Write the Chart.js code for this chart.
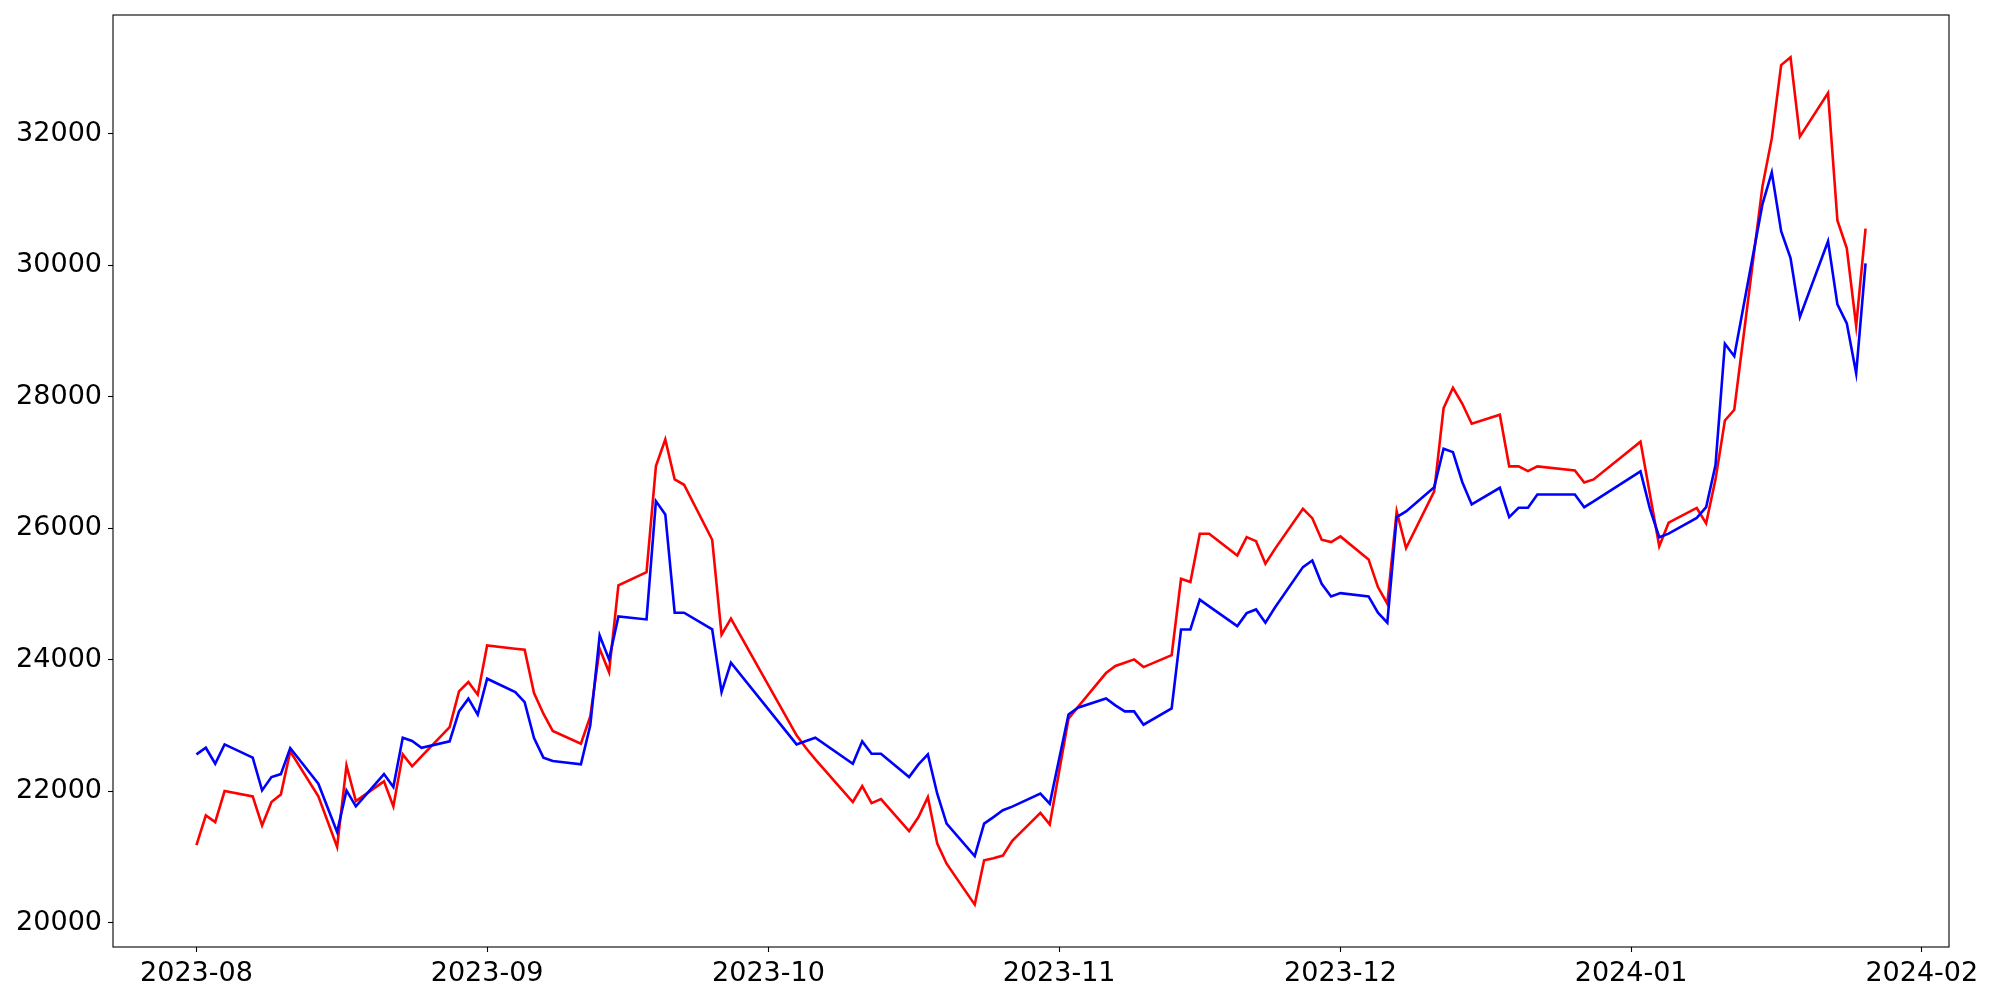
<!DOCTYPE html>
<html>
<head>
<meta charset="utf-8">
<title>price lines</title>
<script src="https://cdn.jsdelivr.net/npm/chart.js@4/dist/chart.umd.min.js"></script>
<style>
  body { margin: 0; background: #fff; }
  canvas { display: block; }
</style>
</head>
<body>
<canvas id="priceChart" width="2000" height="1000"></canvas>
<script>
// trading days (KRX calendar, holidays skipped)
const dates = [
  "2023-08-01","2023-08-02","2023-08-03","2023-08-04","2023-08-07","2023-08-08","2023-08-09","2023-08-10","2023-08-11",
  "2023-08-14","2023-08-16","2023-08-17","2023-08-18","2023-08-21","2023-08-22","2023-08-23","2023-08-24","2023-08-25",
  "2023-08-28","2023-08-29","2023-08-30","2023-08-31",
  "2023-09-01","2023-09-04","2023-09-05","2023-09-06","2023-09-07","2023-09-08","2023-09-11","2023-09-12","2023-09-13",
  "2023-09-14","2023-09-15","2023-09-18","2023-09-19","2023-09-20","2023-09-21","2023-09-22","2023-09-25","2023-09-26",
  "2023-09-27",
  "2023-10-04","2023-10-05","2023-10-06","2023-10-10","2023-10-11","2023-10-12","2023-10-13","2023-10-16","2023-10-17",
  "2023-10-18","2023-10-19","2023-10-20","2023-10-23","2023-10-24","2023-10-25","2023-10-26","2023-10-27","2023-10-30",
  "2023-10-31",
  "2023-11-01","2023-11-02","2023-11-03","2023-11-06","2023-11-07","2023-11-08","2023-11-09","2023-11-10","2023-11-13",
  "2023-11-14","2023-11-15","2023-11-16","2023-11-17","2023-11-20","2023-11-21","2023-11-22","2023-11-23","2023-11-24",
  "2023-11-27","2023-11-28","2023-11-29","2023-11-30",
  "2023-12-01","2023-12-04","2023-12-05","2023-12-06","2023-12-07","2023-12-08","2023-12-11","2023-12-12","2023-12-13",
  "2023-12-14","2023-12-15","2023-12-18","2023-12-19","2023-12-20","2023-12-21","2023-12-22","2023-12-26","2023-12-27",
  "2023-12-28",
  "2024-01-02","2024-01-03","2024-01-04","2024-01-05","2024-01-08","2024-01-09","2024-01-10","2024-01-11","2024-01-12",
  "2024-01-15","2024-01-16","2024-01-17","2024-01-18","2024-01-19","2024-01-22","2024-01-23","2024-01-24","2024-01-25",
  "2024-01-26"
];

const blueValues = [
  22560, 22661, 22418, 22712, 22510, 22012, 22215, 22260, 22656, 22114, 21378, 22012, 21769, 22260, 22063, 22814,
  22763, 22661, 22758, 23214, 23407, 23164,
  23711, 23508, 23355, 22808, 22510, 22458, 22408, 23001, 24370, 24005, 24659, 24613, 26413, 26210, 24715, 24715,
  24461, 23508, 23955,
  22712, 22763, 22814, 22418, 22758, 22570, 22570, 22215, 22408, 22560, 21962, 21506, 21013, 21506, 21606, 21710,
  21765, 21962, 21810,
  22490, 23168, 23270, 23410, 23305, 23214, 23214, 23012, 23260, 24460, 24460, 24913, 24811, 24511, 24709, 24765,
  24563, 24791, 25409, 25511, 25156, 24963,
  25013, 24963, 24715, 24563, 26170, 26256, 26625, 27210, 27158, 26701, 26362, 26616, 26170, 26312, 26312, 26514,
  26514, 26321, 26408,
  26866, 26300, 25864, 25918, 26157, 26320, 26962, 28808, 28618, 30927, 31415, 30519, 30112, 29216, 30367, 29406,
  29117, 28357, 30030
];

const redValues = [
  21181, 21632, 21530, 22002, 21921, 21480, 21835, 21951, 22605, 21921, 21150, 22392, 21850, 22149, 21769, 22560,
  22378, 22529, 22975, 23518, 23660, 23468,
  24218, 24168, 24152, 23492, 23179, 22915, 22722, 23138, 24168, 23812, 25130, 25333, 26945, 27351, 26743, 26662,
  25825, 24380, 24624,
  22850, 22656, 22484, 21835, 22078, 21819, 21880, 21393, 21606, 21910, 21202, 20897, 20274, 20948, 20978, 21020,
  21245, 21670, 21495,
  22300, 23103, 23280, 23797, 23905, 23955, 24005, 23888, 24070, 25232, 25181, 25917, 25917, 25587, 25865, 25804,
  25460, 25683, 26297, 26154, 25825, 25789,
  25876, 25526, 25105, 24852, 26256, 25698, 26560, 27827, 28137, 27894, 27590, 27727, 26941, 26941, 26869, 26941,
  26880, 26697, 26743,
  27318, 26520, 25725, 26085, 26309, 26075, 26744, 27640, 27803, 31198, 31931, 33046, 33164, 31958, 32621, 30682,
  30258, 29079, 30557
];

const xTickLabels = ["2023-08", "2023-09", "2023-10", "2023-11", "2023-12", "2024-01", "2024-02"];
const yTicks = [20000, 22000, 24000, 26000, 28000, 30000, 32000];

// matplotlib-like 5% margins around the data
const xs = dates.map(d => Date.parse(d));
const xMin = Math.min(...xs), xMax = Math.max(...xs);
const xPad = (xMax - xMin) * 0.05;
const allY = blueValues.concat(redValues);
const yMin = Math.min(...allY), yMax = Math.max(...allY);
const yPad = (yMax - yMin) * 0.05;

const toPoints = (vals) => vals.map((v, i) => ({ x: xs[i], y: v }));

const frameBox = {
  id: "frameBox",
  afterDatasetsDraw(chart) {
    const { ctx, chartArea: a } = chart;
    ctx.save();
    ctx.strokeStyle = "#000";
    ctx.lineWidth = 1.1;
    ctx.strokeRect(a.left, a.top, a.right - a.left, a.bottom - a.top);
    ctx.restore();
  },
};

Chart.defaults.font.family = "'DejaVu Sans', sans-serif";
Chart.defaults.font.size = 27;
Chart.defaults.color = "#000";

const ctx = document.getElementById("priceChart");
const priceChart = new Chart(ctx, {
  type: "line",
  data: {
    datasets: [
      {
        label: "blue",
        data: toPoints(blueValues),
        borderColor: "blue",
        backgroundColor: "blue",
        borderWidth: 2.6,
        pointRadius: 0,
        tension: 0,
      },
      {
        label: "red",
        data: toPoints(redValues),
        borderColor: "red",
        backgroundColor: "red",
        borderWidth: 2.6,
        pointRadius: 0,
        tension: 0,
      },
    ],
  },
  options: {
    responsive: false,
    animation: false,
    devicePixelRatio: 1,
    layout: { padding: { top: 15, right: 51, left: 0, bottom: 0 } },
    plugins: {
      legend: { display: false },
      title: { display: false },
      tooltip: { enabled: false },
    },
    scales: {
      x: {
        type: "linear",
        min: xMin - xPad,
        max: xMax + xPad,
        afterBuildTicks: (axis) => {
          axis.ticks = xTickLabels.map(l => ({ value: Date.parse(l + "-01") }));
        },
        afterFit: (axis) => {
          axis.height = 53;
          axis.paddingLeft = 0;
          axis.paddingRight = 0;
        },
        ticks: {
          autoSkip: false,
          maxRotation: 0,
          padding: 6,
          callback: (value, index) => xTickLabels[index],
        },
        grid: {
          drawOnChartArea: false,
          tickLength: 5,
          tickWidth: 1.1,
          tickColor: "#000",
        },
        border: { display: false },
      },
      y: {
        type: "linear",
        min: yMin - yPad,
        max: yMax + yPad,
        afterBuildTicks: (axis) => {
          axis.ticks = yTicks.map(v => ({ value: v }));
        },
        afterFit: (axis) => {
          axis.width = 113;
          axis.paddingTop = 0;
          axis.paddingBottom = 0;
        },
        ticks: {
          padding: 6,
          callback: (value) => String(value),
        },
        grid: {
          drawOnChartArea: false,
          tickLength: 5,
          tickWidth: 1.1,
          tickColor: "#000",
        },
        border: { display: false },
      },
    },
  },
  plugins: [frameBox],
});
</script>
</body>
</html>
